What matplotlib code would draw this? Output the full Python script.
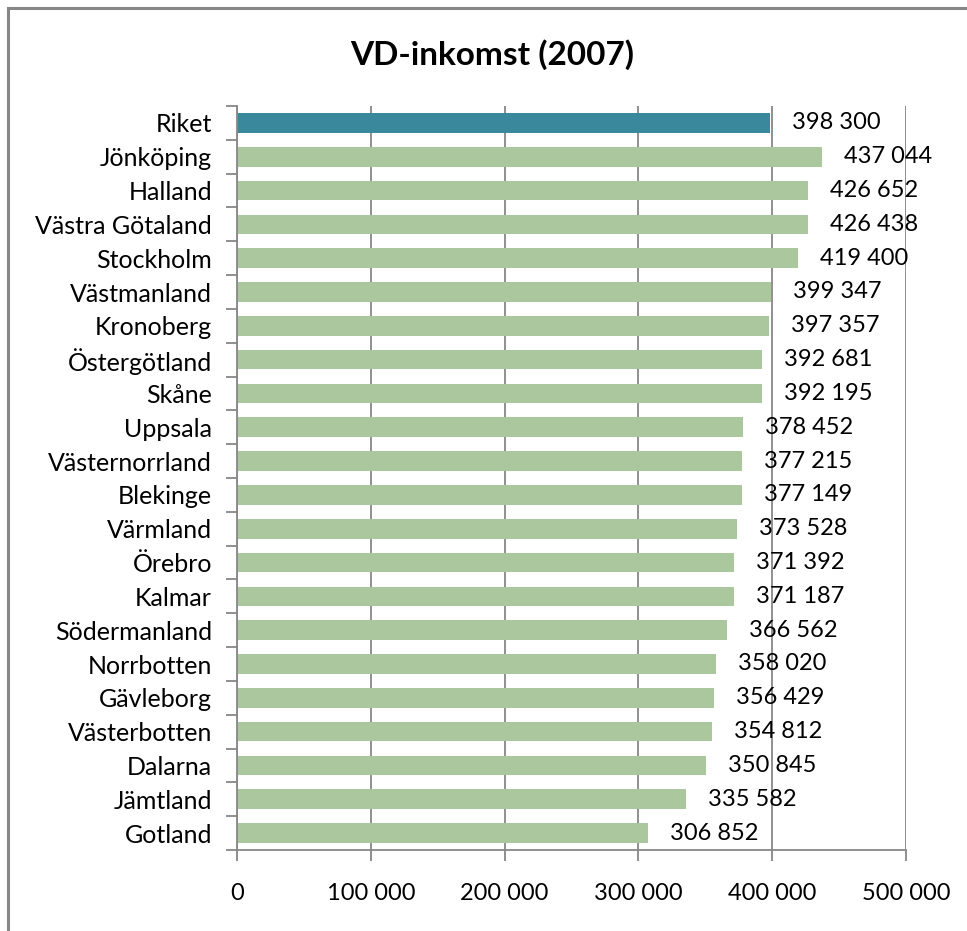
import matplotlib.pyplot as plt
from matplotlib.patches import Rectangle

# VD-inkomst per län, 2007
regions = ['Riket', 'Jönköping', 'Halland', 'Västra Götaland', 'Stockholm',
           'Västmanland', 'Kronoberg', 'Östergötland', 'Skåne', 'Uppsala',
           'Västernorrland', 'Blekinge', 'Värmland', 'Örebro', 'Kalmar',
           'Södermanland', 'Norrbotten', 'Gävleborg', 'Västerbotten',
           'Dalarna', 'Jämtland', 'Gotland']
income = [398300, 437044, 426652, 426438, 419400, 399347, 397357, 392681,
          392195, 378452, 377215, 377149, 373528, 371392, 371187, 366562,
          358020, 356429, 354812, 350845, 335582, 306852]
xticks = [0, 100000, 200000, 300000, 400000, 500000]

plt.rcParams['font.family'] = ['Lato', 'DejaVu Sans']

fig = plt.figure(figsize=(9.67, 9.31), dpi=100)
fig.patches.append(Rectangle((8 / 967, -0.1), 1.2, 1.1 - 8 / 931, transform=fig.transFigure,
                             fill=False, edgecolor='#878787', linewidth=2.2))

ax = fig.add_axes([237 / 967, 1 - 850 / 931, 669 / 967, 744 / 931])

colors = ['#3a889c'] + ['#abc79d'] * (len(regions) - 1)
pos = list(range(len(regions)))
ax.barh(pos, income, height=0.58, color=colors, zorder=2)
ax.set_ylim(len(regions) - 0.5, -0.5)
ax.set_xlim(0, 500000)

for p, v in zip(pos, income):
    label = f'{v:,}'.replace(',', ' ')
    ax.annotate(label, (v, p), xytext=(22, 0), textcoords='offset pixels',
                va='center', ha='left', fontsize=17, zorder=3)

ax.set_xticks(xticks)
ax.set_xticklabels([f'{t:,}'.replace(',', ' ') for t in xticks], fontsize=17)
ax.set_yticks(pos)
ax.set_yticklabels(regions, fontsize=18)
ax.set_yticks([p + 0.5 for p in [-1] + pos], minor=True)
ax.tick_params(axis='y', which='major', length=0, pad=18)
ax.tick_params(axis='y', which='minor', length=8, width=1.3, color='#878787')
ax.tick_params(axis='x', length=8, width=1.3, color='#878787', pad=16)
ax.grid(axis='x', color='#878787', linewidth=1.3, zorder=1)

for s in ['top', 'right']:
    ax.spines[s].set_visible(False)
for s in ['left', 'bottom']:
    ax.spines[s].set_color('#878787')
    ax.spines[s].set_linewidth(1.3)

fig.text(492 / 967, 1 - 55 / 931, 'VD-inkomst (2007)', ha='center', va='center',
         fontsize=24, fontweight='bold')

fig.savefig('out.png', dpi=100)
